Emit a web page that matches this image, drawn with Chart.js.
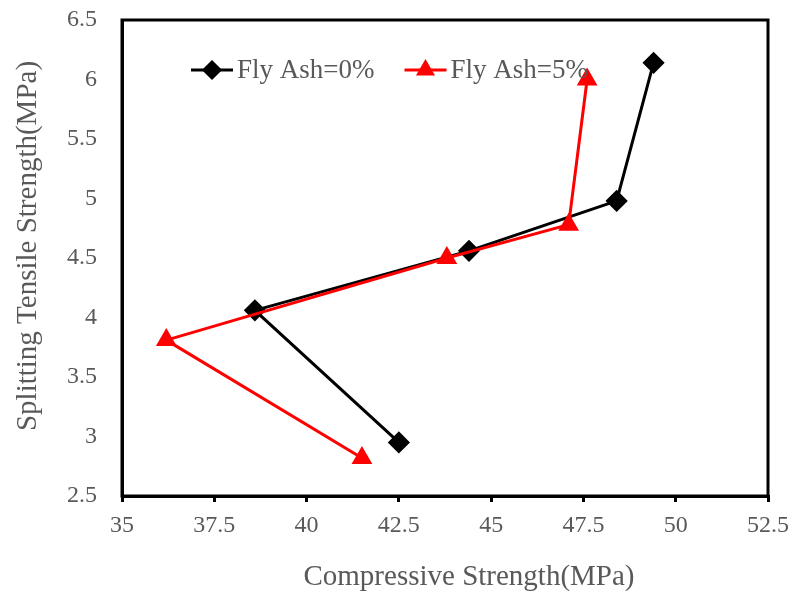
<!DOCTYPE html>
<html>
<head>
<meta charset="utf-8">
<script src="https://cdn.jsdelivr.net/npm/chart.js@4.4.0/dist/chart.umd.min.js"></script>
<style>
    html, body { margin: 0; padding: 0; background: #fff; }
    #wrap { width: 792px; height: 594px; }
</style>
</head>
<body>
<div id="wrap"><canvas id="scatterChart"></canvas></div>
<script>
const compressive0 = [49.4, 48.4, 44.4, 38.6, 42.5]
const tensile0 = [6.14, 4.98, 4.56, 4.06, 2.95]
const compressive5 = [47.6, 47.1, 43.8, 36.2, 41.5]
const tensile5 = [6.0, 4.78, 4.5, 3.81, 2.82]
const seriesNames = ["Fly Ash=0%", "Fly Ash=5%"]
const xTitle = "Compressive Strength(MPa)"
const yTitle = "Splitting Tensile Strength(MPa)"

const toPoints = (xs, ys) => xs.map((x, i) => ({ x: x, y: ys[i] }))
const plainTick = (value) => String(value)

const textColor = "#595959"
const serif = "'Liberation Serif', 'Times New Roman', serif"

// box around the plot, axis titles and the legend inside the plot area
const framePlugin = {
    id: "frame",
    afterDraw(chart) {
        const ctx = chart.ctx
        const a = chart.chartArea
        ctx.save()
        ctx.strokeStyle = "#000"
        ctx.lineWidth = 3
        ctx.strokeRect(a.left, a.top, a.right - a.left, a.bottom - a.top)

        // axis titles
        ctx.font = "29px " + serif
        ctx.fillStyle = textColor
        ctx.textAlign = "center"
        ctx.textBaseline = "middle"
        ctx.fillText(xTitle, (a.left + a.right) / 2 + 24, 577)
        ctx.save()
        ctx.translate(28, (a.top + a.bottom) / 2 - 12)
        ctx.rotate(-Math.PI / 2)
        ctx.fillText(yTitle, 0, 0)
        ctx.restore()

        // legend
        ctx.font = "27px " + serif
        ctx.textAlign = "left"
        let x = a.left + 69
        const y = a.top + 50
        chart.data.datasets.forEach((ds) => {
            ctx.strokeStyle = ds.borderColor
            ctx.lineWidth = 3
            ctx.beginPath()
            ctx.moveTo(x, y)
            ctx.lineTo(x + 42, y)
            ctx.stroke()
            ctx.fillStyle = ds.pointBackgroundColor
            ctx.strokeStyle = ds.pointBorderColor
            Chart.helpers.drawPoint(ctx, {
                pointStyle: ds.pointStyle,
                radius: 8,
                borderWidth: 1
            }, x + 21, y)
            ctx.fillStyle = textColor
            ctx.fillText(ds.label, x + 46, y + 1)
            x += 46 + ctx.measureText(ds.label).width + 30
        })
        ctx.restore()
    }
}

Chart.defaults.font.family = serif
Chart.defaults.color = textColor

new Chart(document.getElementById("scatterChart"), {
    type: "scatter",
    data: {
        datasets: [
            {
                label: seriesNames[0],
                data: toPoints(compressive0, tensile0),
                showLine: true,
                order: 1,
                borderColor: "#000000",
                backgroundColor: "#000000",
                pointBackgroundColor: "#000000",
                pointBorderColor: "#000000",
                borderWidth: 3,
                pointStyle: "rectRot",
                pointRadius: 9,
                pointHoverRadius: 9
            },
            {
                label: seriesNames[1],
                data: toPoints(compressive5, tensile5),
                showLine: true,
                order: 0,
                borderColor: "#ff0000",
                backgroundColor: "#ff0000",
                pointBackgroundColor: "#ff0000",
                pointBorderColor: "#ff0000",
                borderWidth: 3,
                pointStyle: "triangle",
                pointRadius: 9,
                pointHoverRadius: 9
            }
        ]
    },
    options: {
        responsive: true,
        maintainAspectRatio: false,
        animation: false,
        layout: { padding: { top: 20, right: 24, left: 0, bottom: 0 } },
        plugins: {
            legend: { display: false },
            tooltip: { enabled: false }
        },
        scales: {
            x: {
                type: "linear",
                min: 35,
                max: 52.5,
                ticks: { stepSize: 2.5, font: { size: 24 }, color: textColor, padding: 9, callback: plainTick },
                grid: { drawOnChartArea: false, color: "#000", lineWidth: 3, tickLength: 6 },
                border: { color: "#000", width: 3 },
                afterFit(scale) {
                    scale.height = 98
                    scale.paddingLeft = 0
                    scale.paddingRight = 0
                }
            },
            y: {
                min: 2.5,
                max: 6.5,
                ticks: { stepSize: 0.5, font: { size: 24 }, color: textColor, padding: 17, callback: plainTick },
                grid: { display: false },
                border: { color: "#000", width: 3 },
                afterFit(scale) {
                    scale.width = 122
                    scale.paddingTop = 0
                    scale.paddingBottom = 0
                }
            }
        }
    },
    plugins: [framePlugin]
})
</script>
</body>
</html>
